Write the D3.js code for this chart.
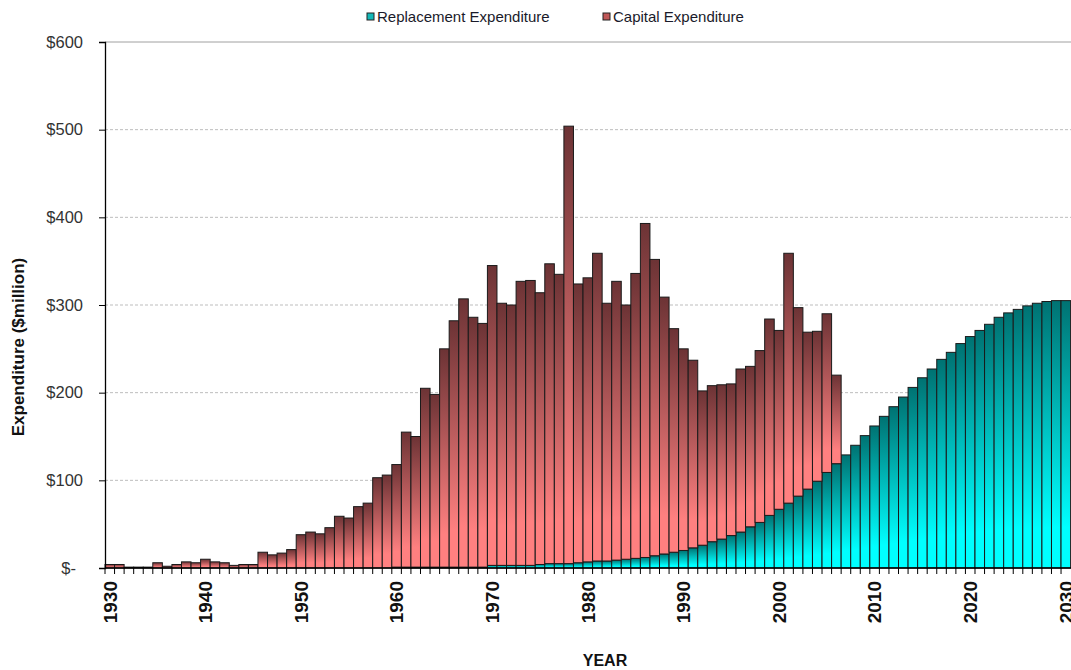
<!DOCTYPE html>
<html>
<head>
<meta charset="utf-8">
<script src="https://cdn.jsdelivr.net/npm/d3@7"></script>
<style>
  body { margin: 0; background: #fff; }
  svg { display: block; font-family: "Liberation Sans", Arial, sans-serif; }
</style>
</head>
<body>
<div id="chart"></div>
<script>
// Years on the category axis
var years = d3.range(1930, 2031);

// Replacement expenditure ($million), 1930..2030
var replacement = [
    0, 0, 0, 0, 0, 0, 0, 0, 0, 0,            // 1930s
    0, 0, 0, 0, 0, 0, 0, 0, 0, 0,            // 1940s
    0, 0, 0, 0, 0, 0, 0, 0, 0, 0,            // 1950s
    1, 1, 1, 1, 1, 1, 1, 1, 1, 1,            // 1960s
    3, 3, 3, 3, 3, 4, 5, 5, 5, 6,            // 1970s
    7, 8, 8, 9, 10, 11, 12, 14, 16, 18,      // 1980s
    20, 23, 26, 30, 33, 37, 41, 47, 52, 60,  // 1990s
    67, 74, 82, 90, 99, 109, 119, 129, 140, 151,         // 2000s
    162, 173, 184, 195, 206, 217, 227, 238, 246, 256,    // 2010s
    264, 271, 278, 286, 291, 295, 299, 302, 304, 305,    // 2020s
    305                                                  // 2030
];

// Capital expenditure ($million), 1930..2030
var capital = [
    4, 4, 1, 1, 1, 6, 2, 4, 7, 6,
    10, 7, 6, 3, 4, 4, 18, 15, 17, 21,
    38, 41, 39, 46, 59, 57, 70, 74, 103, 106,
    117, 154, 149, 204, 197, 249, 281, 306, 285, 278,
    342, 299, 297, 324, 325, 310, 342, 330, 499, 318,
    324, 351, 294, 318, 290, 325, 381, 338, 293, 255,
    230, 214, 176, 178, 176, 173, 186, 183, 196, 224,
    204, 285, 215, 179, 171, 181, 101, 0, 0, 0,
    0, 0, 0, 0, 0, 0, 0, 0, 0, 0,
    0, 0, 0, 0, 0, 0, 0, 0, 0, 0,
    0
];

var yTicks = [0, 100, 200, 300, 400, 500, 600];
var yearLabels = [1930, 1940, 1950, 1960, 1970, 1980, 1990, 2000, 2010, 2020, 2030];
var seriesNames = ["Replacement Expenditure", "Capital Expenditure"];

var width = 1071, height = 670;
var margin = { left: 105, top: 42, bottom: 102 };
var plotRight = 1070.6;

var svg = d3.select("#chart").append("svg")
    .attr("width", width)
    .attr("height", height);

// Gradients for the two series
var defs = svg.append("defs");
function addGradient(id, top, bottom) {
    var g = defs.append("linearGradient")
        .attr("id", id)
        .attr("x1", 0).attr("y1", 0).attr("x2", 0).attr("y2", 1);
    g.append("stop").attr("offset", 0).attr("stop-color", top);
    g.append("stop").attr("offset", 0.85).attr("stop-color", bottom);
    g.append("stop").attr("offset", 1).attr("stop-color", bottom);
}
addGradient("gradRepl", "#007272", "#00ffff");
addGradient("gradCap", "#6c3335", "#ff8080");

var data = years.map(function(y, i) {
    return { year: y, replacement: replacement[i], capital: capital[i] };
});

var x = d3.scaleBand()
    .domain(years)
    .range([margin.left, plotRight])
    .padding(0);

var y = d3.scaleLinear()
    .domain([0, 600])
    .range([height - margin.bottom, margin.top]);

var baseY = y(0);

// Gridlines
svg.append("g")
    .selectAll("line")
    .data(yTicks.filter(function(d) { return d > 0 && d < 600; }))
    .enter().append("line")
    .attr("x1", margin.left).attr("x2", width)
    .attr("y1", function(d) { return y(d); })
    .attr("y2", function(d) { return y(d); })
    .attr("stroke", "#bdbdbd")
    .attr("stroke-dasharray", "3,2")
    .attr("stroke-width", 1);

// Top border of plot area
svg.append("line")
    .attr("x1", margin.left).attr("x2", width)
    .attr("y1", y(600)).attr("y2", y(600))
    .attr("stroke", "#a0a0a0")
    .attr("stroke-width", 1);

// Stacked bars
var stack = d3.stack().keys(["replacement", "capital"]);
var layers = stack(data);
var fills = ["url(#gradRepl)", "url(#gradCap)"];

svg.append("g")
    .selectAll("g")
    .data(layers)
    .enter().append("g")
    .attr("fill", function(d, i) { return fills[i]; })
    .selectAll("rect")
    .data(function(d) { return d.filter(function(p) { return p[1] - p[0] > 0; }); })
    .enter().append("rect")
    .attr("x", function(d) { return x(d.data.year); })
    .attr("y", function(d) { return y(d[1]); })
    .attr("width", x.bandwidth())
    .attr("height", function(d) { return y(d[0]) - y(d[1]); })
    .attr("stroke", "#1a1a1a")
    .attr("stroke-width", 1);

// Y axis
var yAxis = svg.append("g")
    .attr("transform", "translate(" + margin.left + ",0)")
    .call(d3.axisLeft(y)
        .tickValues(yTicks)
        .tickSize(6)
        .tickPadding(16)
        .tickFormat(function(d) { return d === 0 ? "$-" : "$" + d; }));
yAxis.select(".domain").attr("stroke", "#000").attr("stroke-width", 1.3);
yAxis.selectAll(".tick line").attr("stroke", "#000");
yAxis.selectAll("text")
    .style("font-size", "16.5px")
    .attr("fill", "#333")
    .attr("dx", function(d) { return d === 0 ? -7 : 0; });

// X axis: ticks between categories
var xAxis = svg.append("g");
xAxis.append("line")
    .attr("x1", margin.left).attr("x2", width)
    .attr("y1", baseY).attr("y2", baseY)
    .attr("stroke", "#000").attr("stroke-width", 1.3);
xAxis.selectAll(".xt")
    .data(years)
    .enter().append("line")
    .attr("class", "xt")
    .attr("x1", function(d) { return x(d); })
    .attr("x2", function(d) { return x(d); })
    .attr("y1", baseY).attr("y2", baseY + 6)
    .attr("stroke", "#000");

xAxis.selectAll(".xl")
    .data(yearLabels)
    .enter().append("text")
    .attr("class", "xl")
    .attr("transform", function(d) {
        return "translate(" + (x(d) + x.bandwidth() / 2) + "," + (baseY + 13) + ") rotate(-90)";
    })
    .attr("dy", "0.36em")
    .attr("text-anchor", "end")
    .style("font-size", "19px")
    .style("font-weight", "bold")
    .attr("fill", "#111")
    .text(function(d) { return d; });

// Axis titles
svg.append("text")
    .attr("transform", "translate(24," + 347 + ") rotate(-90)")
    .attr("text-anchor", "middle")
    .style("font-size", "17px")
    .style("font-weight", "bold")
    .attr("fill", "#111")
    .text("Expenditure ($million)");

svg.append("text")
    .attr("x", 605)
    .attr("y", 666)
    .attr("text-anchor", "middle")
    .style("font-size", "16px")
    .style("font-weight", "bold")
    .attr("fill", "#111")
    .text("YEAR");

// Legend
var legendX = [367, 603];
var legendFill = ["#14b8b8", "#c05858"];
var legend = svg.selectAll(".legend")
    .data(seriesNames)
    .enter().append("g")
    .attr("class", "legend")
    .attr("transform", function(d, i) { return "translate(" + legendX[i] + ",13)"; });

legend.append("rect")
    .attr("width", 7).attr("height", 7)
    .attr("fill", function(d, i) { return legendFill[i]; })
    .attr("stroke", "#222");

legend.append("text")
    .attr("x", 10)
    .attr("y", 8.5)
    .style("font-size", "15px")
    .attr("fill", "#1a1a2a")
    .text(function(d) { return d; });
</script>
</body>
</html>
